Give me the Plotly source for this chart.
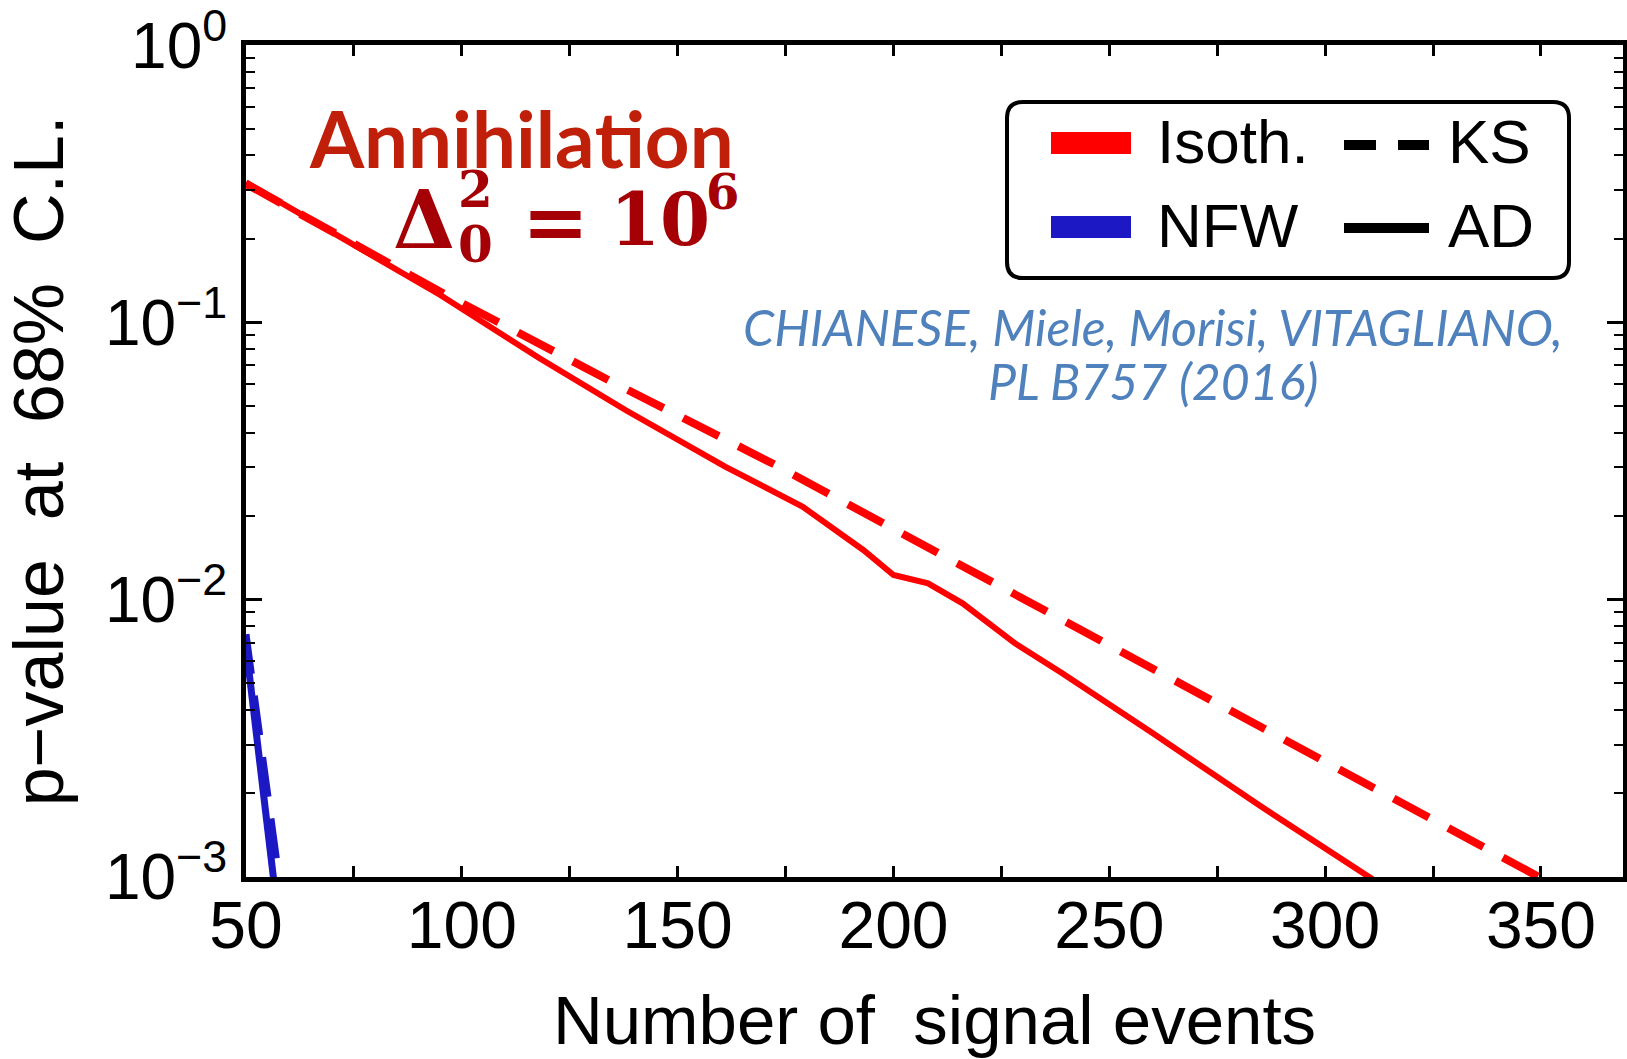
import plotly.graph_objects as go

# ---------------- data ----------------
x_isoth_ad = [50, 75, 95, 118, 138, 161, 179, 193, 200, 208, 216, 228, 239, 260, 285, 311]
p_isoth_ad = [0.32, 0.19, 0.1255, 0.0742, 0.0482, 0.0302, 0.0216, 0.0151, 0.01227, 0.01145,
              0.0097, 0.00698, 0.00544, 0.0033, 0.0018, 0.00098]

x_isoth_ks = [50, 75, 95, 134, 160, 173, 200, 239, 280, 320, 350]
p_isoth_ks = [0.316, 0.192, 0.129, 0.0619, 0.0386, 0.0304, 0.018, 0.00845, 0.00383, 0.00177, 0.00099]

x_nfw_ad = [50, 56.5]
p_nfw_ad = [0.0068, 0.00095]

x_nfw_ks = [50, 57.8]
p_nfw_ks = [0.0075, 0.00095]

x_tick_vals = [50, 100, 150, 200, 250, 300, 350]
y_tick_vals = [0.001, 0.01, 0.1, 1]
y_tick_text = ["10<sup>\u22123</sup>", "10<sup>\u22122</sup>", "10<sup>\u22121</sup>", "10<sup>0</sup>"]

legend_labels = ["Isoth.", "NFW", "KS", "AD"]
title_text = "Annihila\u200ction"
citation_lines = ["CHIANESE, Miele, Morisi, VITAGLIANO,", "PL B757 (2016)"]

# ---------------- styling ----------------
RED = "#ff0000"
BLUE = "#1b18c4"
ANN_RED = "#c0200a"
FORM_RED = "#a50006"
CIT_BLUE = "#4f81bd"
SANS = "Liberation Sans, Arial, sans-serif"

W, H = 1627, 1059
L, R, T, B = 246, 4, 45, 182
PW = W - L - R
PH = H - T - B


def px(x):
    return (x - L) / PW


def py(y):
    return (H - B - y) / PH


DASH = "40px,22px"

fig = go.Figure()
fig.add_trace(go.Scatter(x=x_nfw_ks, y=p_nfw_ks, mode="lines", name="NFW KS",
                         line=dict(color=BLUE, width=7, dash=DASH)))
fig.add_trace(go.Scatter(x=x_nfw_ad, y=p_nfw_ad, mode="lines", name="NFW AD",
                         line=dict(color=BLUE, width=7)))
fig.add_trace(go.Scatter(x=x_isoth_ks, y=p_isoth_ks, mode="lines", name="Isoth. KS",
                         line=dict(color=RED, width=8, dash=DASH)))
fig.add_trace(go.Scatter(x=x_isoth_ad, y=p_isoth_ad, mode="lines", name="Isoth. AD",
                         line=dict(color=RED, width=6)))

axis_common = dict(
    showline=True, linecolor="black", linewidth=5, mirror="allticks",
    showgrid=False, zeroline=False, ticks="inside", tickcolor="black",
    automargin=False, ticklabeloverflow="allow",
)

fig.update_xaxes(
    **axis_common,
    range=[50, 369],
    tickmode="array", tickvals=x_tick_vals,
    ticklen=11, tickwidth=3,
    minor=dict(dtick=25, tick0=50, ticks="inside", ticklen=11, tickwidth=3,
               tickcolor="black", showgrid=False),
    tickfont=dict(family=SANS, size=66, color="black"),
    ticklabelstandoff=-13,
    title=dict(text="Number of\u00a0 signal events",
               font=dict(family=SANS, size=69, color="black"), standoff=60),
)

fig.update_yaxes(
    **axis_common,
    type="log", range=[-3.0005, 0.0005],
    tickmode="array", tickvals=y_tick_vals, ticktext=y_tick_text,
    ticklen=16, tickwidth=3,
    minor=dict(dtick="D1", ticks="inside", ticklen=9, tickwidth=2,
               tickcolor="black", showgrid=False),
    tickfont=dict(family=SANS, size=64, color="black"),
    ticklabelstandoff=1,
    title=dict(text="p\u2212value\u00a0 at\u00a0 68%\u00a0 C.L.",
               font=dict(family=SANS, size=70, color="black"), standoff=33),
)

annotations = []
# "Annihilation"
annotations.append(dict(x=px(521), y=py(138), xref="paper", yref="paper",
                        text=title_text, showarrow=False, xanchor="center", yanchor="middle",
                        font=dict(family="Lato", size=78, color=ANN_RED, weight="bold")))
# Delta_0^2 = 10^6
SERIF = "DejaVu Serif"
annotations += [
    dict(x=px(424), y=py(220), text="\u0394", font=dict(family=SERIF, size=80, color=FORM_RED, weight="bold")),
    dict(x=px(475), y=py(189), text="2", font=dict(family=SERIF, size=50, color=FORM_RED, weight="bold")),
    dict(x=px(475), y=py(244), text="0", font=dict(family=SERIF, size=50, color=FORM_RED, weight="bold")),
    dict(x=px(555), y=py(222), text="=", font=dict(family=SERIF, size=80, color=FORM_RED, weight="bold")),
    dict(x=px(660), y=py(220), text="10", font=dict(family=SERIF, size=72, color=FORM_RED, weight="bold")),
    dict(x=px(722), y=py(192), text="6", font=dict(family=SERIF, size=48, color=FORM_RED, weight="bold")),
]
for a in annotations[1:]:
    a.update(xref="paper", yref="paper", showarrow=False, xanchor="center", yanchor="middle")

# citation
annotations.append(dict(x=px(1153), y=py(327), xref="paper", yref="paper", text=citation_lines[0],
                        showarrow=False, xanchor="center", yanchor="middle",
                        font=dict(family="Lato", size=50, color=CIT_BLUE, style="italic")))
annotations.append(dict(x=px(1153), y=py(381), xref="paper", yref="paper", text=citation_lines[1],
                        showarrow=False, xanchor="center", yanchor="middle",
                        font=dict(family="Lato", size=50, color=CIT_BLUE, style="italic")))

# legend texts
LEG_FONT = dict(family=SANS, size=62, color="black")
for label, (lx, ly) in zip(legend_labels, [(1155, 141), (1155, 225), (1446, 141), (1446, 225)]):
    annotations.append(dict(x=px(lx), y=py(ly), xref="paper", yref="paper", text=label,
                            showarrow=False, xanchor="left", yanchor="middle", font=LEG_FONT))

# legend frame (rounded rectangle) and samples
x0, x1 = px(1007), px(1569)
y0, y1 = py(278), py(102)
rx, ry = 16 / PW, 16 / PH
path = (f"M {x0+rx},{y0} L {x1-rx},{y0} Q {x1},{y0} {x1},{y0+ry} "
        f"L {x1},{y1-ry} Q {x1},{y1} {x1-rx},{y1} L {x0+rx},{y1} "
        f"Q {x0},{y1} {x0},{y1-ry} L {x0},{y0+ry} Q {x0},{y0} {x0+rx},{y0} Z")
shapes = [
    dict(type="path", path=path, xref="paper", yref="paper",
         line=dict(color="black", width=4), fillcolor="white", layer="below"),
    dict(type="line", xref="paper", yref="paper", x0=px(1051), x1=px(1131), y0=py(143), y1=py(143),
         line=dict(color=RED, width=22)),
    dict(type="line", xref="paper", yref="paper", x0=px(1051), x1=px(1131), y0=py(227), y1=py(227),
         line=dict(color=BLUE, width=22)),
    dict(type="line", xref="paper", yref="paper", x0=px(1344), x1=px(1429), y0=py(145), y1=py(145),
         line=dict(color="black", width=10, dash="32px,22px")),
    dict(type="line", xref="paper", yref="paper", x0=px(1344), x1=px(1429), y0=py(228), y1=py(228),
         line=dict(color="black", width=10)),
]

fig.update_layout(
    width=W, height=H,
    margin=dict(l=L, r=R, t=T, b=B),
    paper_bgcolor="white", plot_bgcolor="white",
    showlegend=False,
    annotations=annotations,
    shapes=shapes,
)

fig.write_html("out.html")
